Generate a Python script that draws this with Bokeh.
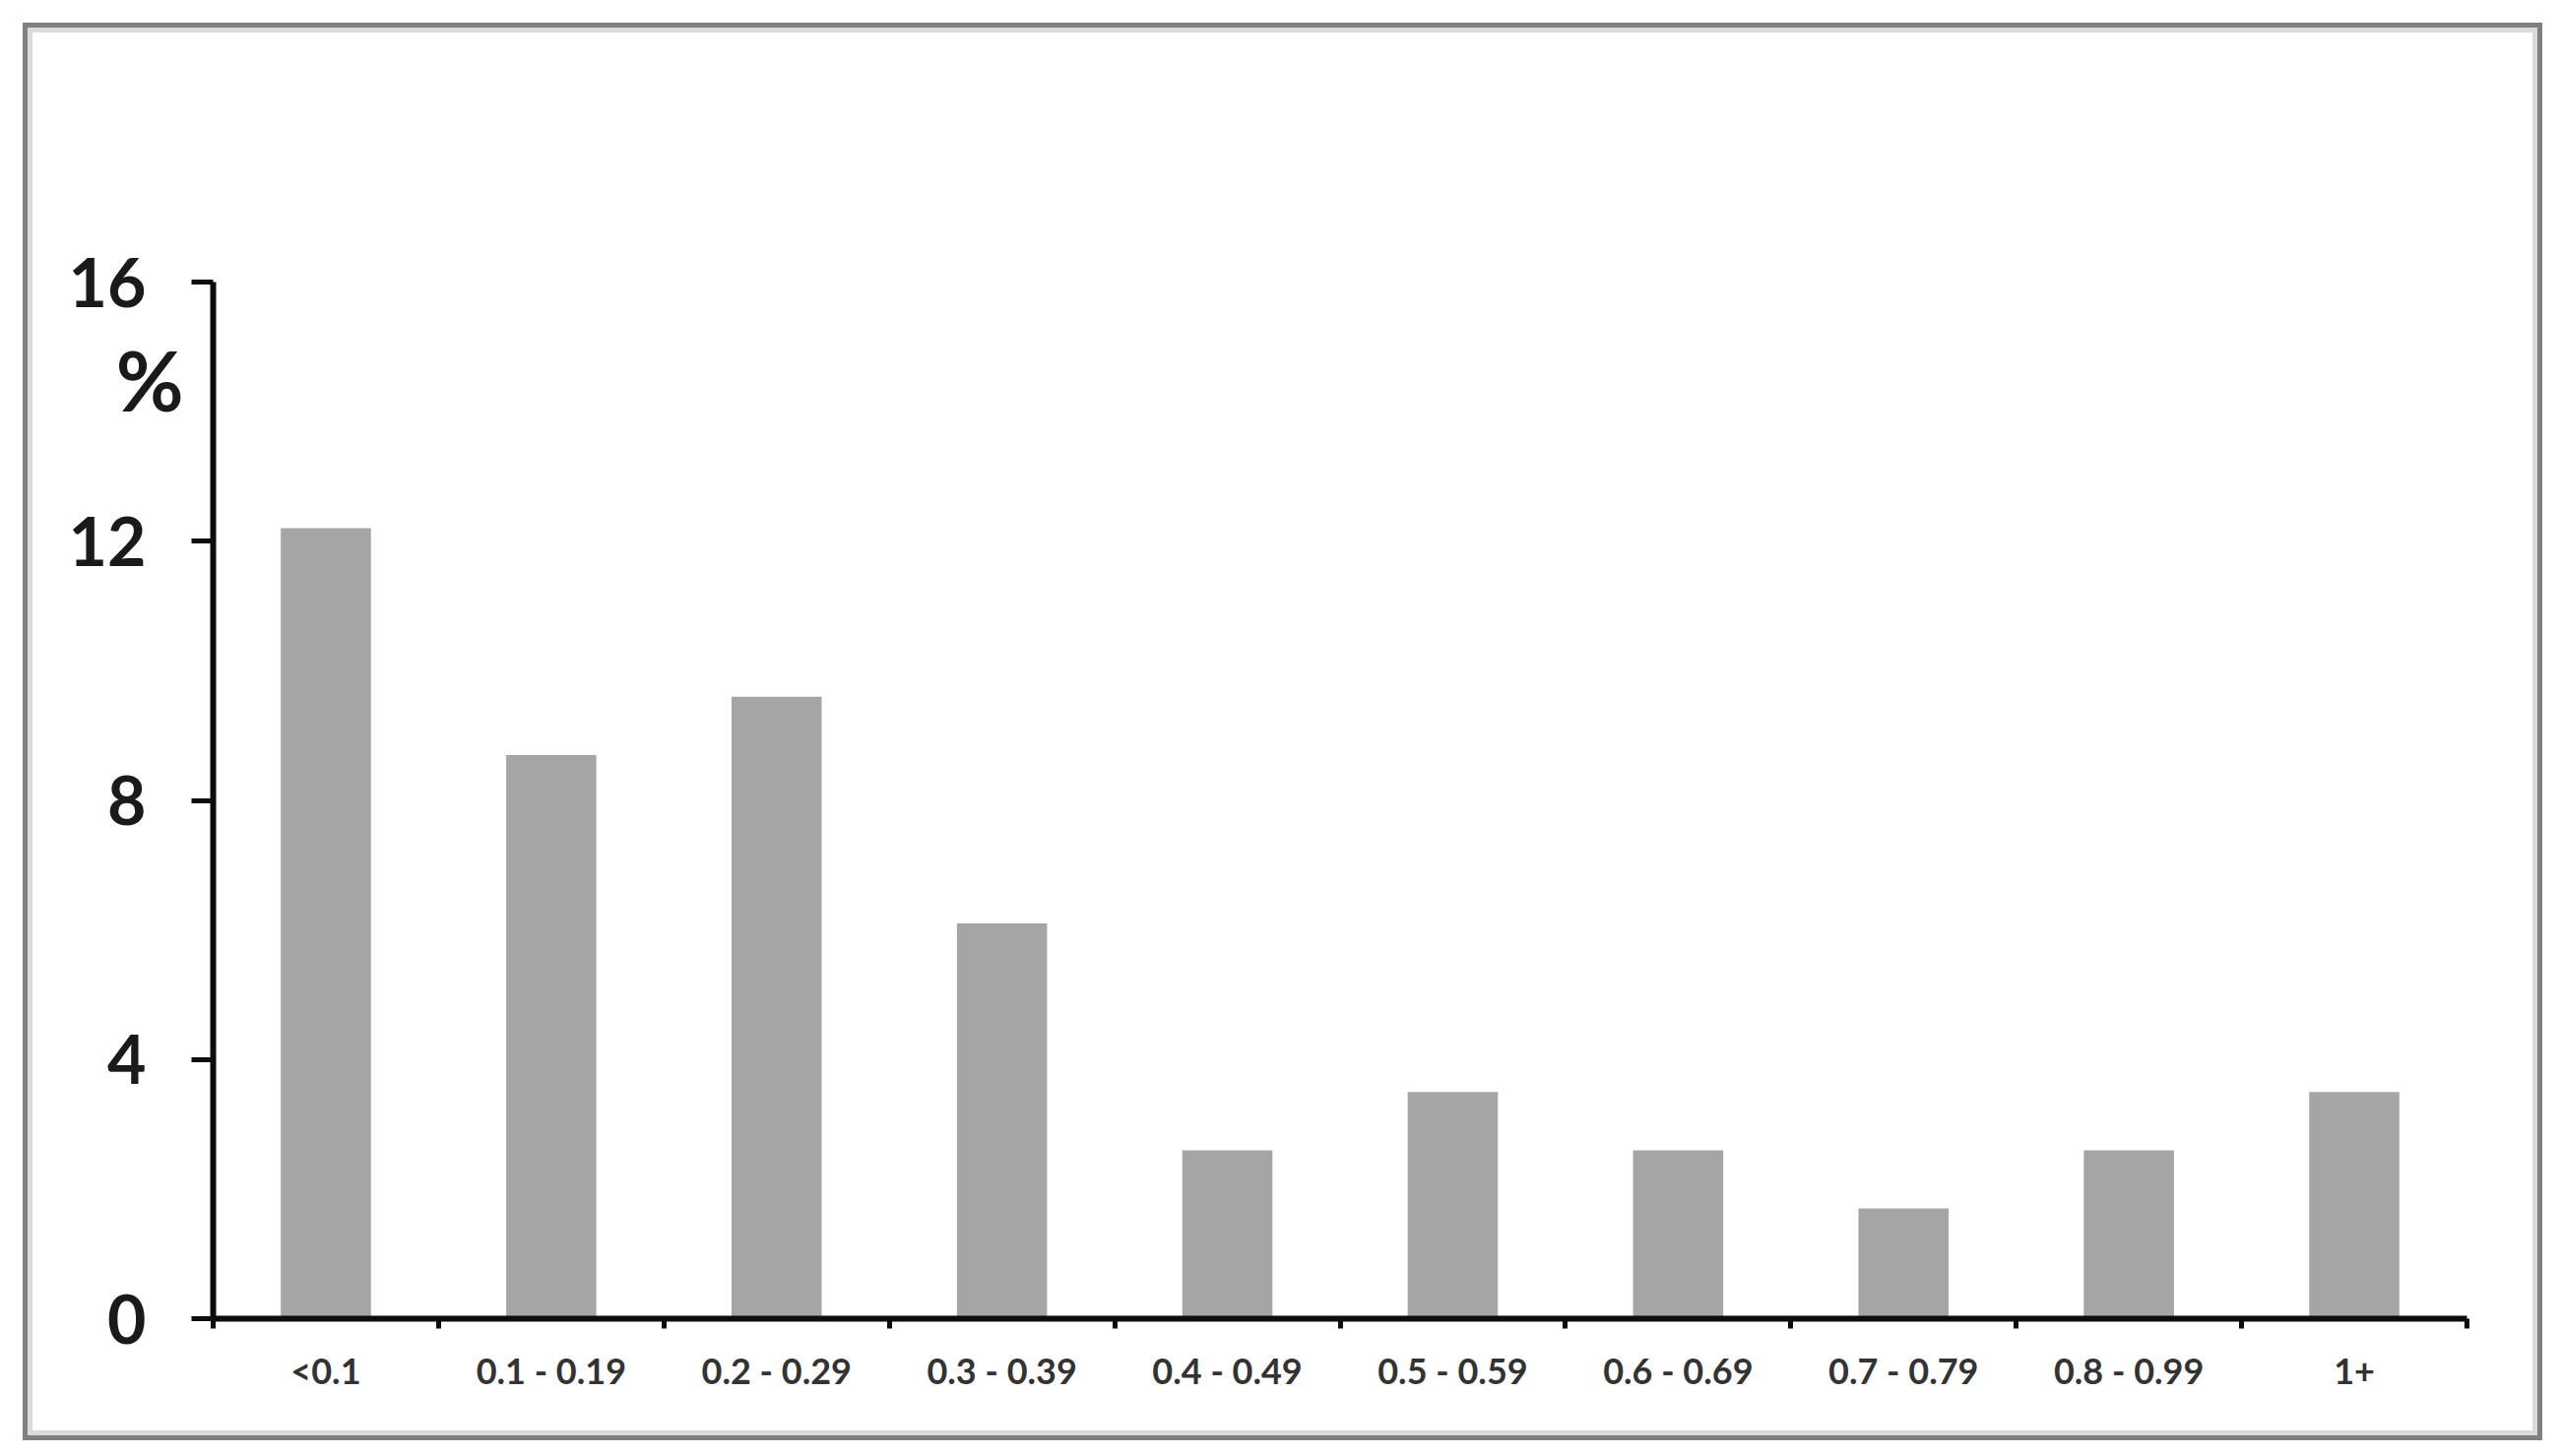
from bokeh.plotting import figure
from bokeh.models import FixedTicker, Range1d, LinearAxis
from bokeh.embed import file_html
from bokeh.resources import INLINE

# ---- data ----
categories = ["<0.1", "0.1 - 0.19", "0.2 - 0.29", "0.3 - 0.39", "0.4 - 0.49",
              "0.5 - 0.59", "0.6 - 0.69", "0.7 - 0.79", "0.8 - 0.99", "1+"]
percent = [12.2, 8.7, 9.6, 6.1, 2.6, 3.5, 2.6, 1.7, 2.6, 3.5]
y_ticks = [0, 4, 8, 12, 16]
y_unit = "%"
y_unit_at = [14.5]

n = len(categories)
centers = [i + 0.5 for i in range(n)]
bounds = list(range(n + 1))

p = figure(frame_width=2289, frame_height=1053, output_backend="svg",
           toolbar_location=None,
           x_range=Range1d(0, n), y_range=Range1d(y_ticks[0], y_ticks[-1]),
           min_border_left=183, min_border_right=67,
           min_border_top=253, min_border_bottom=114)
p.styles = {"margin-left": "28px", "margin-top": "28px",
            "border": "5px solid #dadada", "outline": "5px solid #808080"}

p.outline_line_color = None
p.grid.visible = False
p.background_fill_color = "white"
p.border_fill_color = "white"

p.vbar(x=centers, top=percent, width=0.4, bottom=0,
       fill_color="#a5a5a5", line_color=None)

# x axis: ticks at category boundaries, labels at centres
xa = p.xaxis[0]
xa.ticker = FixedTicker(ticks=centers, minor_ticks=bounds)
xa.major_label_overrides = {c: lab for c, lab in zip(centers, categories)}
xa.major_tick_out = 0
xa.major_tick_in = 0
xa.minor_tick_out = 10
xa.minor_tick_in = 0
xa.minor_tick_line_width = 5
xa.minor_tick_line_color = "#0d0d0d"
xa.axis_line_width = 6
xa.axis_line_color = "#0d0d0d"
xa.major_label_standoff = 20
xa.major_label_text_font = "Lato"
xa.major_label_text_font_style = "bold"
xa.major_label_text_font_size = "36px"
xa.major_label_text_color = "#333333"

# y axis
ya = p.yaxis[0]
ya.ticker = FixedTicker(ticks=y_ticks)
ya.major_tick_out = 22
ya.major_tick_in = 0
ya.major_tick_line_width = 5
ya.major_tick_line_color = "#0d0d0d"
ya.minor_tick_out = 0
ya.minor_tick_in = 0
ya.axis_line_width = 6
ya.axis_line_color = "#0d0d0d"
ya.major_label_standoff = 46
ya.major_label_text_font = "Lato"
ya.major_label_text_font_style = "bold"
ya.major_label_text_font_size = "68px"
ya.major_label_text_color = "#1a1a1a"

# unit "%" under the top tick label, via an extra label-only left axis
ua = LinearAxis(ticker=FixedTicker(ticks=y_unit_at),
                major_label_overrides={t: y_unit for t in y_unit_at},
                axis_line_color=None, major_tick_line_color=None,
                minor_tick_line_color=None, major_tick_out=0, major_tick_in=0,
                minor_tick_out=0, minor_tick_in=0,
                major_label_standoff=-120,
                major_label_text_font="Lato", major_label_text_font_style="bold",
                major_label_text_font_size="84px", major_label_text_color="#1a1a1a")
p.add_layout(ua, "left")

open("out.html", "w").write(file_html(p, INLINE))
